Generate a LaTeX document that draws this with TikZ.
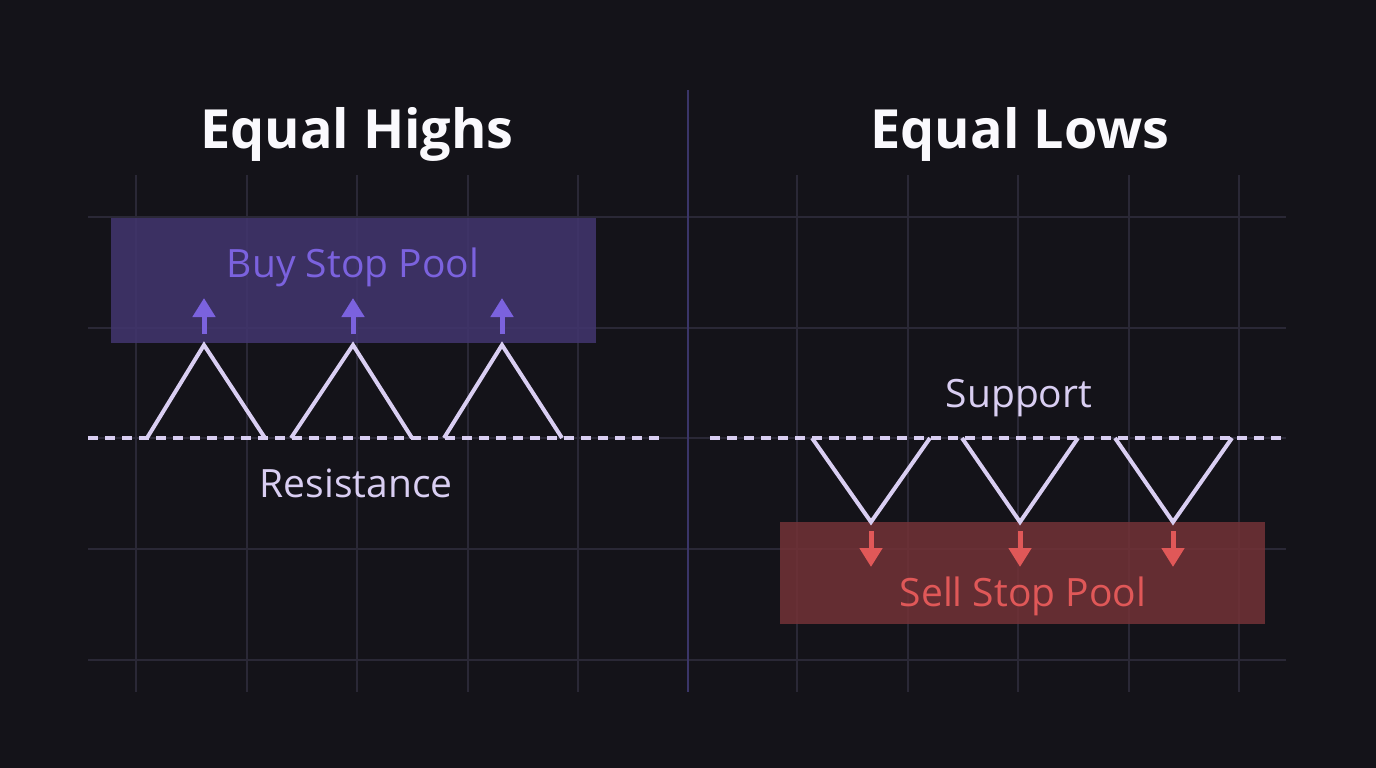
\documentclass[tikz,border=0pt]{standalone}
\usepackage{fontspec}
\setmainfont{Open Sans}
\usetikzlibrary{arrows.meta}
\definecolor{bgdark}{HTML}{141319}
\definecolor{gridline}{HTML}{2A2836}
\definecolor{divline}{HTML}{3A3568}
\definecolor{lavender}{HTML}{D9CEF2}
\definecolor{buypurple}{HTML}{7B62DE}
\definecolor{buybox}{HTML}{42366F}
\definecolor{sellred}{HTML}{E05858}
\definecolor{sellbox}{HTML}{733237}
\begin{document}
\begin{tikzpicture}[x=1pt,y=-1pt,
  gridstyle/.style={gridline,line width=1.5},
  pricestyle/.style={lavender,line width=4,line join=miter},
  levelstyle/.style={lavender,line width=3.5,dash pattern=on 10 off 7},
  titlestyle/.style={text=white!88!lavender,font=\fontsize{54}{60}\selectfont\bfseries,anchor=base,inner sep=0},
  labelstyle/.style={text=lavender,font=\fontsize{39}{46}\selectfont,anchor=base,inner sep=0},
  buyarrow/.style={buypurple,line width=5,-{Triangle[length=19,width=22]}},
  sellarrow/.style={sellred,line width=5,-{Triangle[length=19,width=22]}}]
\useasboundingbox[fill=bgdark] (0,0) rectangle (1376,768);
% grid
\draw[gridstyle] (88,217)--(1286,217) (88,328)--(1286,328) (88,438)--(1286,438)
  (88,549)--(1286,549) (88,660)--(1286,660);
\draw[gridstyle] (136,175)--(136,692) (247,175)--(247,692) (357,175)--(357,692)
  (468,175)--(468,692) (578,175)--(578,692);
\draw[gridstyle] (797,175)--(797,692) (908,175)--(908,692) (1018,175)--(1018,692)
  (1129,175)--(1129,692) (1239,175)--(1239,692);
\draw[divline,line width=2.5] (688,90)--(688,692);
% titles
\node[titlestyle](TH) at (357,148){Equal Highs};
\node[titlestyle](TL) at (1020,148){Equal Lows};
% equal highs
\fill[buybox,fill opacity=0.85] (111,218) rectangle (596,343);
\node[labelstyle,text=buypurple](BSP) at (353,277){Buy Stop Pool};
\coordinate (R0) at (88,438);
\coordinate (R1) at (665,438);
\draw[levelstyle] (R0)--(R1);
\node[labelstyle](RES) at (356,497){Resistance};
\coordinate (A1) at (147,438); \coordinate (P1) at (204,345); \coordinate (B1) at (265,438);
\coordinate (A2) at (291,438); \coordinate (P2) at (353,345); \coordinate (B2) at (412,438);
\coordinate (A3) at (444,438); \coordinate (P3) at (502,345); \coordinate (B3) at (562,438);
\draw[pricestyle] (A1)--(P1)--(B1);
\draw[pricestyle] (A2)--(P2)--(B2);
\draw[pricestyle] (A3)--(P3)--(B3);
\draw[buyarrow] ([yshift=11]P1)--([yshift=47]P1);
\draw[buyarrow] ([yshift=11]P2)--([yshift=47]P2);
\draw[buyarrow] ([yshift=11]P3)--([yshift=47]P3);
% equal lows
\fill[sellbox,fill opacity=0.85] (780,522) rectangle (1265,624);
\node[labelstyle,text=sellred](SSP) at (1023,606){Sell Stop Pool};
\coordinate (S0) at (710,438);
\coordinate (S1) at (1286,438);
\draw[levelstyle] (S0)--(S1);
\node[labelstyle](SUP) at (1019,407){Support};
\coordinate (C1) at (812,438); \coordinate (V1) at (871,522); \coordinate (D1) at (930,438);
\coordinate (C2) at (962,438); \coordinate (V2) at (1020,522); \coordinate (D2) at (1078,438);
\coordinate (C3) at (1115,438); \coordinate (V3) at (1173,522); \coordinate (D3) at (1232,438);
\draw[pricestyle] (C1)--(V1)--(D1);
\draw[pricestyle] (C2)--(V2)--(D2);
\draw[pricestyle] (C3)--(V3)--(D3);
\draw[sellarrow] ([yshift=-9]V1)--([yshift=-45]V1);
\draw[sellarrow] ([yshift=-9]V2)--([yshift=-45]V2);
\draw[sellarrow] ([yshift=-9]V3)--([yshift=-45]V3);
\end{tikzpicture}
\end{document}
